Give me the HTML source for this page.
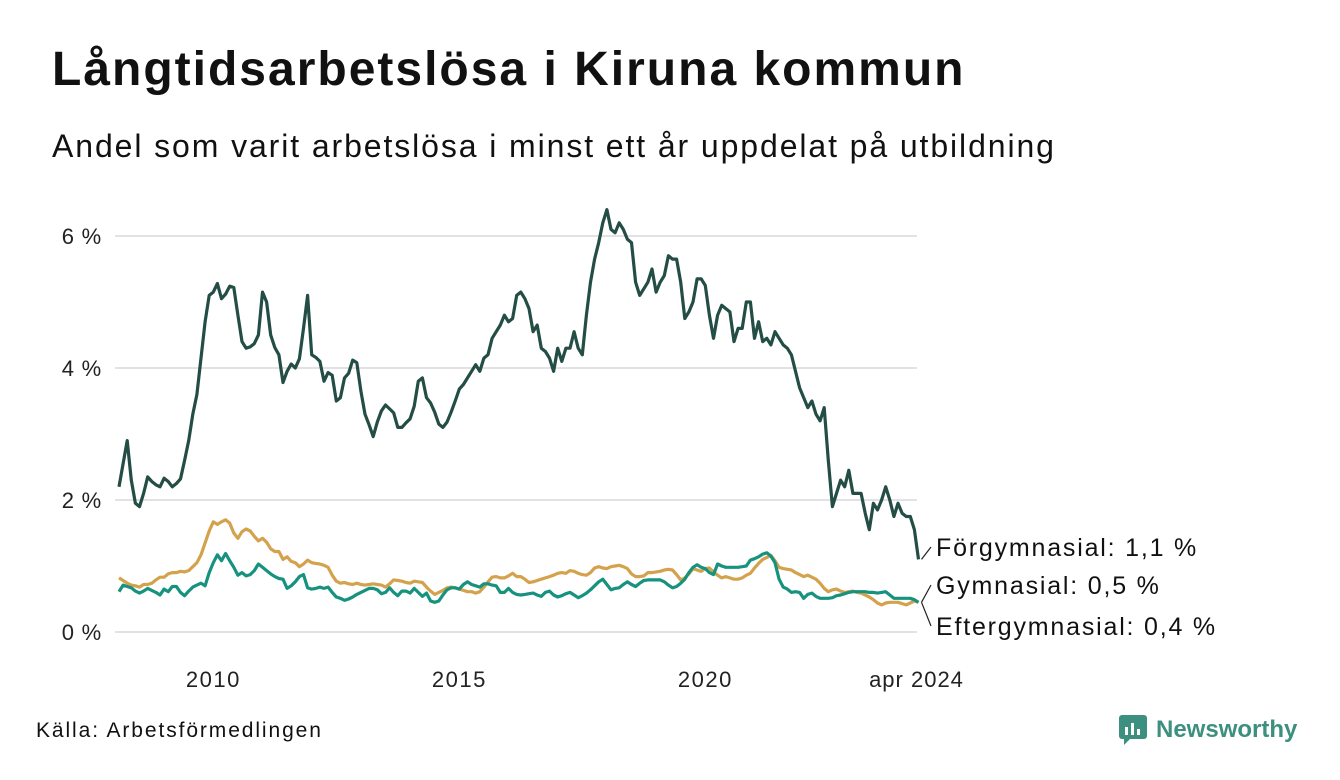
<!DOCTYPE html>
<html><head><meta charset="utf-8">
<style>
body{margin:0;background:#fff;font-family:"Liberation Sans","DejaVu Sans",sans-serif;}
#wrap{position:relative;width:1340px;height:780px;overflow:hidden;background:#fff;}
h1{position:absolute;left:52px;top:42px;margin:0;font-size:48px;line-height:56px;font-weight:bold;color:#111;letter-spacing:2px;}
.sub{position:absolute;left:52px;top:126px;font-size:32px;line-height:40px;color:#111;letter-spacing:1.9px;}
.src{position:absolute;left:36px;top:719px;font-size:21px;color:#111;letter-spacing:1.9px;}
.logo{position:absolute;left:1118px;top:714px;display:flex;align-items:center;}
.logo span{font-size:24px;font-weight:bold;color:#3d8f80;margin-left:8px;}
</style></head><body>
<div id="wrap">
<h1>Långtidsarbetslösa i Kiruna kommun</h1>
<div class="sub">Andel som varit arbetslösa i minst ett år uppdelat på utbildning</div>
<svg id="chart" width="1340" height="780" style="position:absolute;left:0;top:0"></svg>
<div class="src">Källa: Arbetsförmedlingen</div>
<div class="logo">
<svg width="30" height="32"><rect x="1" y="1" width="28" height="24" rx="3" fill="#3d8f80"/><polygon points="6,25 12,25 6,31" fill="#3d8f80"/><rect x="7" y="13" width="3" height="8" fill="#fff"/><rect x="13" y="9" width="3" height="12" fill="#fff"/><rect x="19" y="15" width="3" height="6" fill="#fff"/></svg>
<span>Newsworthy</span></div>
</div>
<script>
const startYear = 2008;
const yTicks = [0, 2, 4, 6];
const yTickLabels = ["0 %", "2 %", "4 %", "6 %"];
const xTicks = [2010, 2015, 2020];
const xTickLabels = ["2010", "2015", "2020"];
const lastLabel = "apr 2024";
const forgymnasial = [
2.2,2.55,2.9,2.3,1.95,1.9,2.1,2.35,2.28,2.23,2.2,2.33,
2.28,2.2,2.25,2.32,2.6,2.9,3.3,3.6,4.15,4.7,5.1,5.15,
5.28,5.05,5.12,5.24,5.22,4.8,4.4,4.3,4.32,4.37,4.5,5.15,
5.0,4.5,4.31,4.2,3.78,3.95,4.06,4.0,4.14,4.6,5.1,4.2,
4.16,4.1,3.8,3.93,3.89,3.5,3.55,3.85,3.92,4.12,4.08,3.65,
3.3,3.14,2.96,3.18,3.35,3.44,3.38,3.32,3.1,3.1,3.17,3.23,
3.42,3.8,3.85,3.55,3.47,3.33,3.15,3.1,3.18,3.33,3.5,3.68,
3.75,3.85,3.95,4.05,3.95,4.15,4.2,4.45,4.55,4.65,4.8,4.7,
4.75,5.1,5.15,5.05,4.9,4.55,4.65,4.3,4.25,4.15,3.95,4.3,
4.1,4.3,4.3,4.55,4.3,4.2,4.8,5.3,5.65,5.9,6.2,6.4,
6.1,6.05,6.2,6.1,5.95,5.9,5.3,5.1,5.2,5.3,5.5,5.15,
5.3,5.4,5.7,5.65,5.65,5.3,4.75,4.85,5.0,5.35,5.35,5.25,
4.8,4.45,4.8,4.95,4.9,4.85,4.4,4.6,4.6,5.0,5.0,4.45,
4.7,4.4,4.45,4.35,4.55,4.45,4.35,4.3,4.2,3.95,3.7,3.55,
3.4,3.5,3.3,3.2,3.4,2.6,1.9,2.1,2.3,2.2,2.45,2.1,
2.1,2.1,1.8,1.55,1.95,1.85,2.0,2.2,2.0,1.75,1.95,1.8,
1.75,1.75,1.55,1.1];
const gymnasial = [
0.82,0.78,0.74,0.71,0.7,0.68,0.72,0.72,0.74,0.79,0.83,0.83,
0.88,0.9,0.9,0.92,0.91,0.93,0.99,1.05,1.17,1.35,1.53,1.67,
1.63,1.67,1.7,1.65,1.5,1.42,1.52,1.56,1.53,1.45,1.38,1.42,
1.36,1.26,1.22,1.22,1.1,1.14,1.07,1.05,0.99,1.03,1.09,1.05,
1.04,1.03,1.01,0.98,0.86,0.77,0.74,0.75,0.73,0.72,0.74,0.72,
0.71,0.72,0.73,0.72,0.71,0.68,0.73,0.79,0.78,0.77,0.75,0.74,
0.77,0.76,0.75,0.68,0.62,0.57,0.6,0.63,0.67,0.68,0.67,0.65,
0.63,0.61,0.61,0.59,0.61,0.68,0.76,0.83,0.84,0.82,0.82,0.85,
0.89,0.84,0.84,0.8,0.75,0.76,0.78,0.8,0.82,0.84,0.86,0.89,
0.9,0.89,0.93,0.92,0.89,0.87,0.86,0.9,0.97,0.99,0.97,0.96,
0.99,1.0,1.01,0.99,0.96,0.88,0.84,0.84,0.85,0.9,0.9,0.91,
0.92,0.94,0.95,0.94,0.87,0.79,0.82,0.88,0.96,0.94,0.92,0.96,
0.97,0.91,0.86,0.82,0.84,0.82,0.8,0.8,0.82,0.86,0.89,0.97,
1.04,1.1,1.13,1.16,1.08,0.98,0.96,0.95,0.94,0.9,0.87,0.84,
0.86,0.83,0.8,0.74,0.66,0.61,0.64,0.65,0.62,0.6,0.61,0.62,
0.6,0.59,0.56,0.53,0.49,0.44,0.41,0.44,0.45,0.45,0.45,0.43,
0.41,0.44,0.47,0.45];
const eftergymnasial = [
0.61,0.71,0.69,0.67,0.62,0.59,0.62,0.66,0.63,0.6,0.56,0.65,
0.61,0.69,0.69,0.6,0.55,0.62,0.68,0.71,0.74,0.7,0.9,1.05,
1.17,1.08,1.19,1.08,0.98,0.86,0.9,0.85,0.87,0.93,1.03,0.98,
0.93,0.88,0.84,0.81,0.8,0.66,0.7,0.76,0.84,0.87,0.67,0.65,
0.66,0.68,0.66,0.68,0.6,0.53,0.51,0.48,0.5,0.53,0.57,0.6,
0.63,0.66,0.66,0.64,0.58,0.6,0.67,0.6,0.55,0.62,0.62,0.59,
0.66,0.6,0.54,0.59,0.47,0.45,0.47,0.56,0.64,0.67,0.67,0.65,
0.72,0.76,0.72,0.7,0.68,0.73,0.73,0.71,0.7,0.6,0.6,0.66,
0.6,0.57,0.56,0.57,0.58,0.59,0.56,0.54,0.6,0.62,0.56,0.53,
0.55,0.58,0.6,0.56,0.52,0.55,0.59,0.64,0.7,0.76,0.8,0.72,
0.64,0.66,0.67,0.72,0.76,0.72,0.69,0.74,0.78,0.79,0.79,0.79,
0.79,0.76,0.71,0.67,0.69,0.74,0.8,0.9,0.98,1.02,0.98,0.96,
0.9,0.87,1.03,1.0,0.98,0.98,0.98,0.98,0.99,1.0,1.09,1.11,
1.14,1.18,1.2,1.15,1.05,0.8,0.68,0.65,0.6,0.61,0.6,0.51,
0.57,0.59,0.54,0.51,0.51,0.51,0.52,0.55,0.56,0.58,0.6,0.61,
0.61,0.61,0.61,0.6,0.6,0.59,0.6,0.61,0.56,0.51,0.51,0.51,
0.51,0.51,0.49,0.45];
const seriesNames = ["Förgymnasial: 1,1 %", "Gymnasial: 0,5 %", "Eftergymnasial: 0,4 %"];

const NS = "http://www.w3.org/2000/svg";
const svg = document.getElementById("chart");
const x0 = 119, pxPerYear = 49.2, y0 = 632, pxPerPct = 66;
function xScale(t){ return x0 + (t - startYear) * pxPerYear; }
function yScale(v){ return y0 - v * pxPerPct; }
function mk(tag, attrs){ const e = document.createElementNS(NS, tag); for (const k in attrs) e.setAttribute(k, attrs[k]); svg.appendChild(e); return e; }

yTicks.forEach((t, i) => {
  const g = mk("line", {x1:115, x2:917, y1:yScale(t), y2:yScale(t), stroke:"#e2e2e6", "stroke-width":2});
  
  
  const l = mk("text", {x:102, y:yScale(t)+8, "text-anchor":"end", "font-size":22, "letter-spacing":"0.8", fill:"#222"});
  l.textContent = yTickLabels[i];
  
  
});
xTicks.forEach((t, i) => {
  const l = mk("text", {x:xScale(t)-4, y:687, "text-anchor":"middle", "font-size":22, "letter-spacing":"1.5", fill:"#222"});
  l.textContent = xTickLabels[i];
  
  
});
const nLast = forgymnasial.length - 1;
const ll = mk("text", {x:xScale(startYear + nLast/12)-2, y:687, "text-anchor":"middle", "font-size":22, "letter-spacing":"1", fill:"#222"});
ll.textContent = lastLabel;



function drawLine(vals, color, name){
  const d = vals.map((v, i) => (i ? "L" : "M") + xScale(startYear + i/12).toFixed(1) + "," + yScale(v).toFixed(1)).join("");
  const p = mk("path", {d:d, fill:"none", stroke:color, "stroke-width":3.2, "stroke-linejoin":"round"});
  
  
}
drawLine(gymnasial, "#d4a24c", "gymnasial-line");
drawLine(eftergymnasial, "#16927f", "eftergymnasial-line");
drawLine(forgymnasial, "#234d45", "forgymnasial-line");

const ends = [forgymnasial, gymnasial, eftergymnasial];
const labelY = [556, 594, 635];
ends.forEach((s, k) => {
  const ex = xScale(startYear + (s.length-1)/12), ey = yScale(s[s.length-1]);
  const ln = mk("line", {x1:ex+3, y1:ey, x2:931, y2:labelY[k]-9, stroke:"#222", "stroke-width":1.2});
  
  
  const t = mk("text", {x:936, y:labelY[k], "font-size":25, "letter-spacing":"1.8", fill:"#111"});
  t.textContent = seriesNames[k];
  
  
});
</script>
</body></html>
